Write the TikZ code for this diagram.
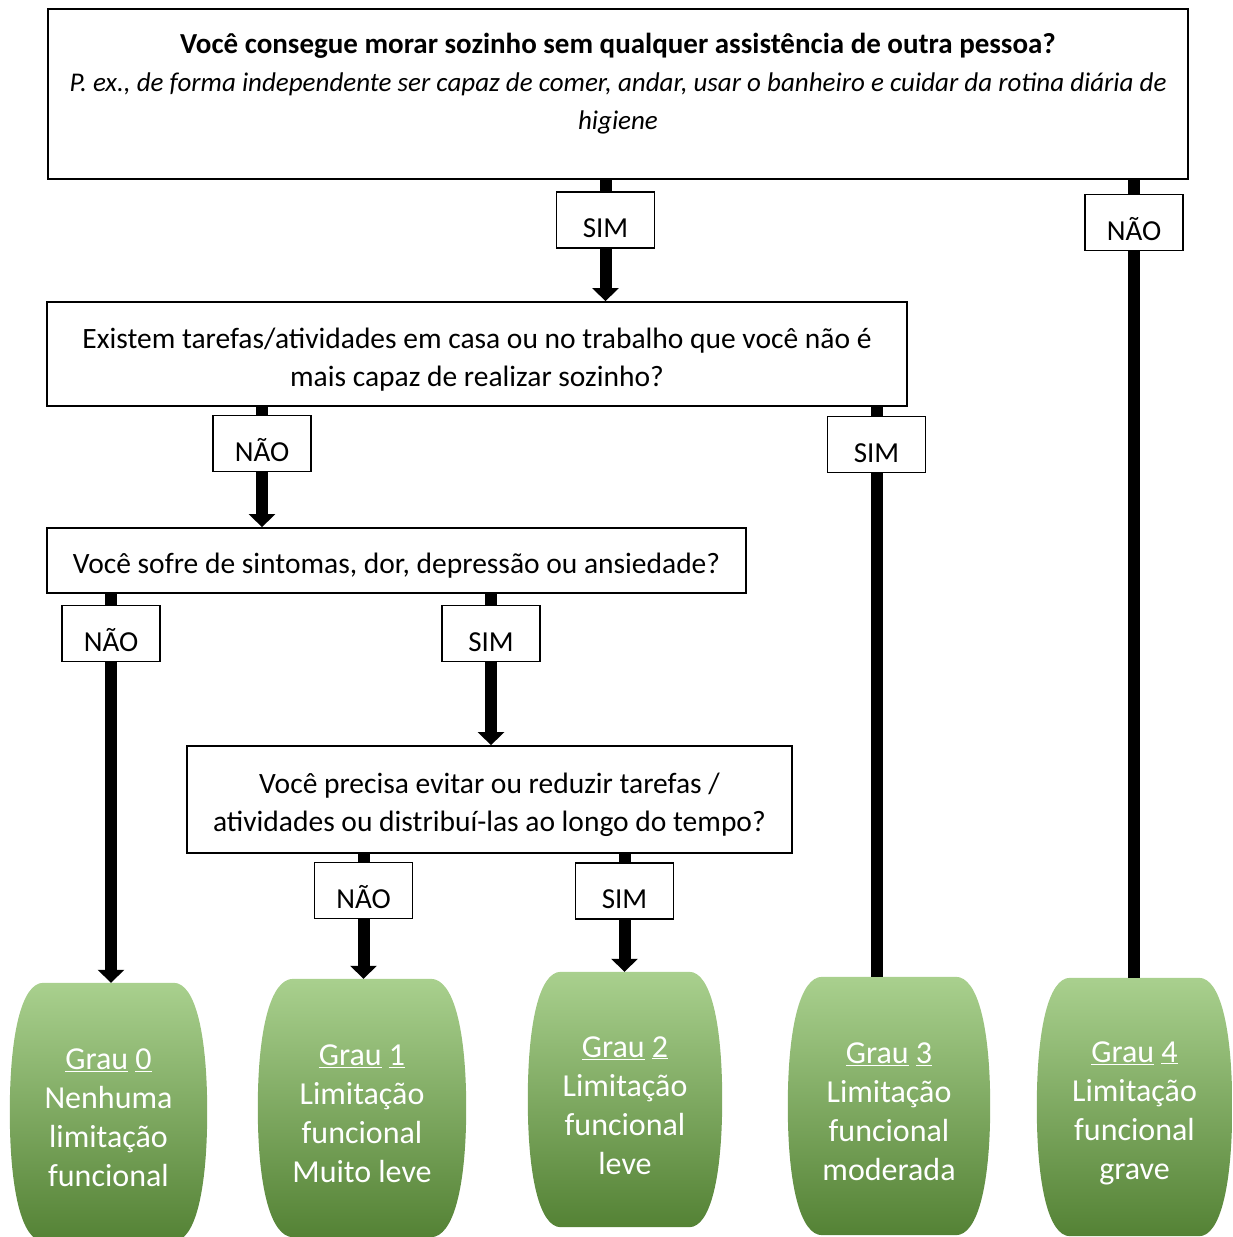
\documentclass[tikz,border=0pt]{standalone}
\usepackage{fontspec}
\setmainfont{Carlito}
\usetikzlibrary{arrows.meta,calc,backgrounds}
\definecolor{gtop}{RGB}{169,208,142}
\definecolor{gmid}{RGB}{112,173,71}
\definecolor{gbot}{RGB}{84,130,53}
\newcommand\topsp{\rule{0pt}{31pt}}
\newcommand\gshape[1]{%
\begin{scope}[on background layer]
\shade[top color=gtop, middle color=gmid, bottom color=gbot]
 let \p1=(#1.north west), \p2=(#1.south east), \n1={0.17*(\x2-\x1)}, \n2={\y1-\y2} in
 ({\x1+\n1*1pt},\y1) -- ({\x2-\n1*1pt},\y1)
 .. controls ({\x2-0.35*\n1*1pt},\y1) and (\x2,{\y1-0.2*\n2*1pt}) .. (\x2,{\y1-0.5*\n2*1pt})
 .. controls (\x2,{\y2+0.2*\n2*1pt}) and ({\x2-0.35*\n1*1pt},\y2) .. ({\x2-\n1*1pt},\y2)
 -- ({\x1+\n1*1pt},\y2)
 .. controls ({\x1+0.35*\n1*1pt},\y2) and (\x1,{\y2+0.2*\n2*1pt}) .. (\x1,{\y1-0.5*\n2*1pt})
 .. controls (\x1,{\y1-0.2*\n2*1pt}) and ({\x1+0.35*\n1*1pt},\y1) .. cycle;
\end{scope}}
\begin{document}
\begin{tikzpicture}[x=1pt,y=-1pt,
  box/.style={draw, line width=1.8pt, fill=white, inner sep=0pt, align=center, font=\fontsize{29.5}{38}\selectfont},
  lab/.style={draw, line width=1.8pt, fill=white, minimum width=98pt, minimum height=56pt, inner sep=0pt, text height=35pt, text depth=0pt, font=\fontsize{29}{34}\selectfont},
  conn/.style={line width=12pt},
  arr/.style={conn, -{Triangle[length=13pt,width=26pt]}},
  gnode/.style={inner sep=0pt, minimum height=258pt},
  gtext/.style={text=white, align=center, inner sep=0pt, font=\fontsize{32}{39}\selectfont, yshift=-6pt}
]
\useasboundingbox (0,0) rectangle (1233,1237);

% question boxes
\node[box, minimum width=1140pt, minimum height=170pt] (q1) at (618,94) {};
\node[align=center, inner sep=0pt, font=\fontsize{27}{38}\selectfont] (q1t) at (618,84)
  {{\fontsize{29}{38}\selectfont\textbf{Você consegue morar sozinho sem qualquer assistência de outra pessoa?}}\\
   \textit{P. ex., de forma independente ser capaz de comer, andar, usar o banheiro e cuidar da rotina diária de}\\
   \textit{higiene}};
\node[box, minimum width=860pt, minimum height=104pt] (q2) at (477,354)
  {\topsp Existem tarefas/atividades em casa ou no trabalho que você não é\\mais capaz de realizar sozinho?};
\node[box, minimum width=699pt, minimum height=65pt] (q3) at (396.5,560.5)
  {\topsp Você sofre de sintomas, dor, depressão ou ansiedade?};
\node[box, minimum width=605pt, minimum height=107pt] (q4) at (489.5,799.5)
  {\topsp Você precisa evitar ou reduzir tarefas /\\atividades ou distribuí-las ao longo do tempo?};

% green result shapes
\node[gnode, minimum width=197pt, label={[gtext]center:\underline{Grau} \underline{0}\\Nenhuma\\limitação\\funcional}] (g0) at (108.5,1112) {};
\node[gnode, minimum width=208pt, label={[gtext]center:\underline{Grau} \underline{1}\\Limitação\\funcional\\Muito leve}] (g1) at (362,1108) {};
\node[gnode, minimum width=194pt, minimum height=255pt, label={[gtext]center:\underline{Grau} \underline{2}\\Limitação\\funcional\\leve}] (g2) at (625,1099.5) {};
\node[gnode, minimum width=202pt, label={[gtext]center:\underline{Grau} \underline{3}\\Limitação\\funcional\\moderada}] (g3) at (889,1106) {};
\node[gnode, minimum width=195pt, label={[gtext]center:\underline{Grau} \underline{4}\\Limitação\\funcional\\grave}] (g4) at (1134.5,1107) {};
\gshape{g0}\gshape{g1}\gshape{g2}\gshape{g3}\gshape{g4}

% answer labels
\node[lab] (l1) at (605.5,220) {SIM};
\node[lab] (l2) at (1134,222.5) {NÃO};
\node[lab] (l3) at (262,443.5) {NÃO};
\node[lab] (l4) at (876.5,444.5) {SIM};
\node[lab] (l5) at (111,633.5) {NÃO};
\node[lab] (l6) at (491,633.5) {SIM};
\node[lab] (l7) at (363.5,890.5) {NÃO};
\node[lab] (l8) at (624.5,891) {SIM};

% connectors
\begin{scope}[on background layer]
\draw[conn] (l1.north |- q1.south) -- (l1.north);
\draw[arr] (l1.south) -- (l1.south |- q2.north);
\draw[conn] (l2.north |- q1.south) -- (l2.north);
\draw[conn] (l2.south) -- (l2.south |- g4.north);
\draw[conn] (l3.north |- q2.south) -- (l3.north);
\draw[arr] (l3.south) -- (l3.south |- q3.north);
\draw[conn] (l4.north |- q2.south) -- (l4.north);
\draw[conn] (l4.south) -- (l4.south |- g3.north);
\draw[conn] (l5.north |- q3.south) -- (l5.north);
\draw[arr] (l5.south) -- (l5.south |- g0.north);
\draw[conn] (l6.north |- q3.south) -- (l6.north);
\draw[arr] (l6.south) -- (l6.south |- q4.north);
\draw[conn] (l7.north |- q4.south) -- (l7.north);
\draw[arr] (l7.south) -- (l7.south |- g1.north);
\draw[conn] (l8.north |- q4.south) -- (l8.north);
\draw[arr] (l8.south) -- (l8.south |- g2.north);
\end{scope}
\end{tikzpicture}
\end{document}
